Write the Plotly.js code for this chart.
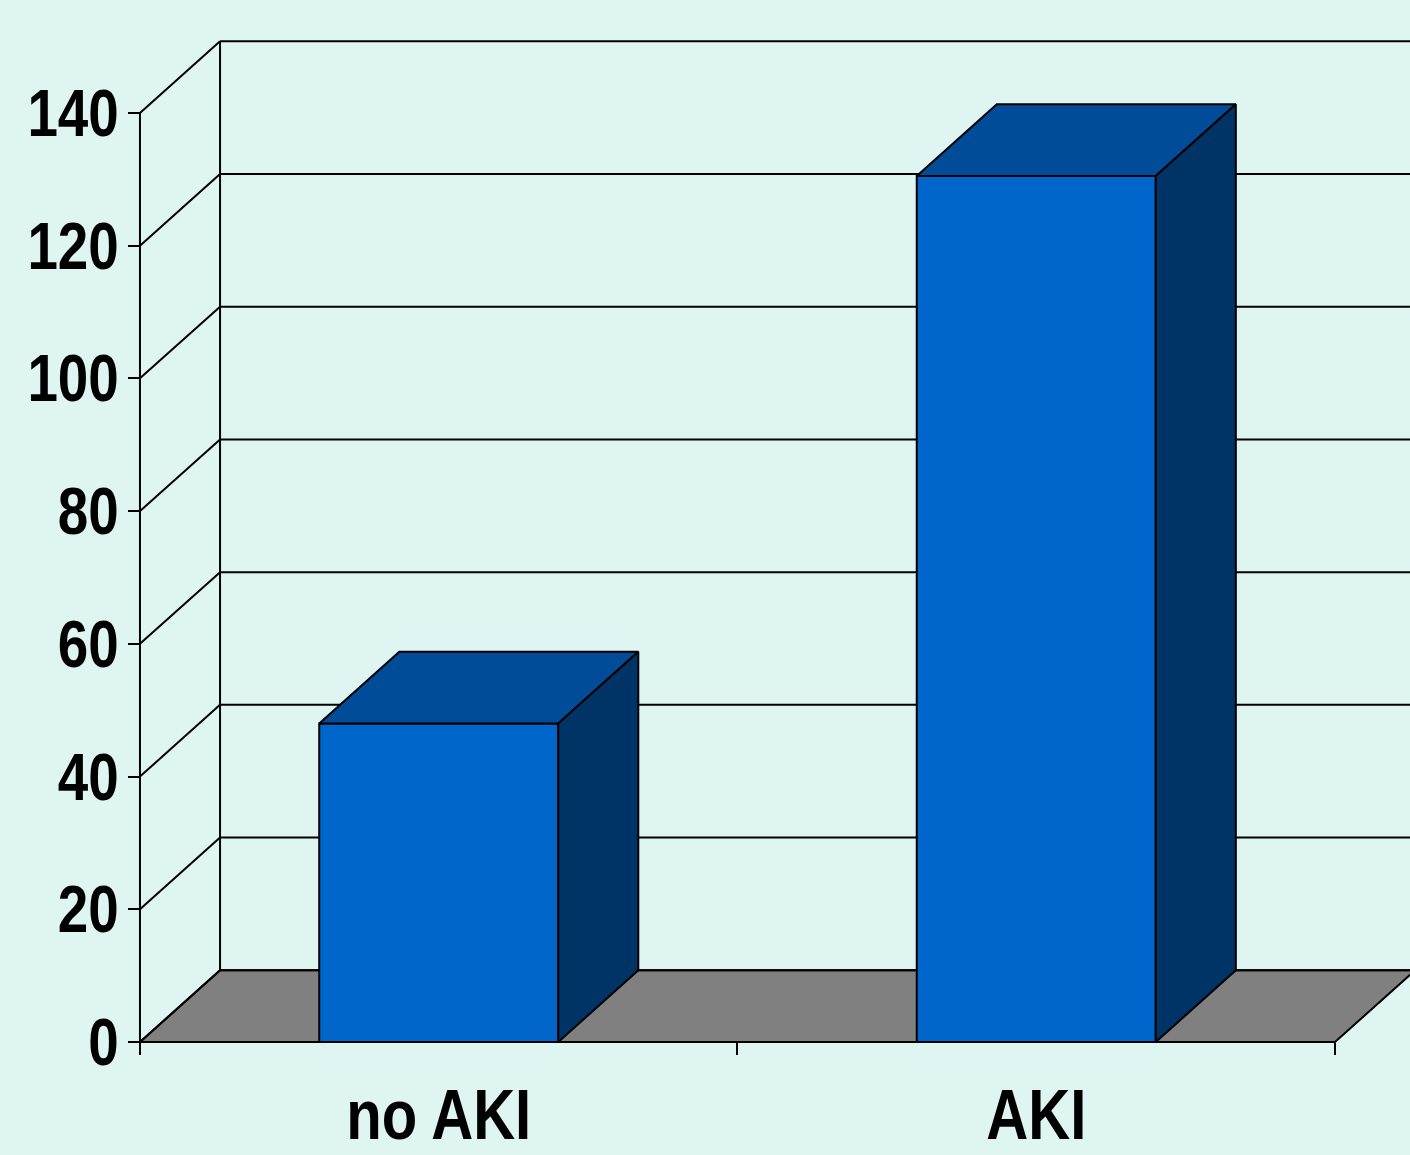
<!DOCTYPE html>
<html>
<head>
<meta charset="utf-8">
<script src="https://cdn.plot.ly/plotly-3.0.1.min.js"></script>
<style>
  html, body { margin: 0; padding: 0; background: #DEF5F1; }
  #chart { width: 1410px; height: 1155px; }
</style>
</head>
<body>
<div id="chart"></div>
<script>
// ---- data ----
const categories = ['no AKI', 'AKI'];
const values = [48, 130.5];
const yTickVals = [0, 20, 40, 60, 80, 100, 120, 140];
const yTickText = ['0', '20', '40', '60', '80', '100', '120', '140'];

// ---- geometry / style ----
const DX = 0.134;       // depth offset in x units
const DY = 10.8;        // depth offset in y units
const BAR_HALF = 0.2;   // half bar width in x units
const Y_TOP = yTickVals[yTickVals.length - 1];
const X_END = categories.length;
const catPos = categories.map((c, i) => i + 0.5);

const BG = '#DEF5F1';
const FLOOR = '#808080';
const FRONT = '#0066CC';
const TOP = '#004C99';
const SIDE = '#003366';
const LINE = '#000000';
const NARROW = 0.83;    // horizontal condensing of label text (Arial Narrow look)
const FONT = { family: '"Liberation Sans", Arial, sans-serif', size: 66, color: '#000', weight: 700 };

const traces = [];
function poly(xs, ys, fill, lw) {
  traces.push({
    type: 'scatter', mode: 'lines', x: xs.concat([xs[0]]), y: ys.concat([ys[0]]),
    fill: 'toself', fillcolor: fill, line: { color: LINE, width: lw },
    hoverinfo: 'skip', showlegend: false
  });
}
function lines(xs, ys, lw) {
  traces.push({
    type: 'scatter', mode: 'lines', x: xs, y: ys, connectgaps: false,
    line: { color: LINE, width: lw }, hoverinfo: 'skip', showlegend: false
  });
}

// floor
poly([0, X_END, X_END + DX, DX], [0, 0, DY, DY], FLOOR, 2);

// back-wall gridlines and side-wall diagonals
const gx = [], gy = [];
yTickVals.forEach(t => {
  gx.push(DX, X_END + DX + 0.5, null);
  gy.push(t + DY, t + DY, null);
  gx.push(0, DX, null);
  gy.push(t, t + DY, null);
});
lines(gx, gy, 2);
// back-wall corner and front value axis
lines([DX, DX, null, 0, 0], [DY, Y_TOP + DY, null, 0, Y_TOP], 2);

// 3D bars
values.forEach((v, i) => {
  const x0 = catPos[i] - BAR_HALF, x1 = catPos[i] + BAR_HALF;
  poly([x0, x1, x1, x0], [0, 0, v, v], FRONT, 2);
  poly([x0, x1, x1 + DX, x0 + DX], [v, v, v + DY, v + DY], TOP, 2);
  poly([x1, x1 + DX, x1 + DX, x1], [0, DY, v + DY, v], SIDE, 2);
});

const layout = {
  width: 1410, height: 1155,
  paper_bgcolor: BG, plot_bgcolor: BG,
  margin: { l: 100, r: 0, t: 20, b: 95 },
  showlegend: false,
  font: FONT,
  xaxis: {
    range: [-0.0669, 2.1255], anchor: 'free', position: 0.017308,
    showgrid: false, zeroline: false, showline: false,
    tickmode: 'array', tickvals: catPos, ticktext: categories,
    ticks: '', ticklabelstandoff: 26,
    tickfont: Object.assign({}, FONT, { size: 70 }),
    minor: { tickmode: 'array', tickvals: [0, 1, 2], ticks: 'outside', ticklen: 12, tickwidth: 2, tickcolor: LINE, showgrid: false },
    fixedrange: true
  },
  yaxis: {
    range: [-2.712, 154.0], anchor: 'free', position: 0.030534,
    showgrid: false, zeroline: false, showline: false,
    tickmode: 'array', tickvals: yTickVals, ticktext: yTickText,
    ticks: 'outside', ticklen: 12, tickwidth: 2, tickcolor: LINE,
    ticklabelstandoff: -4,
    tickfont: FONT,
    fixedrange: true
  }
};

function condense(gd) {
  gd.querySelectorAll('.xtick text, .ytick text').forEach(t => {
    const ax = parseFloat(t.getAttribute('x')) || 0;
    const prev = t.getAttribute('transform') || '';
    t.setAttribute('transform', prev + ' translate(' + ax + ',0) scale(' + NARROW + ',1) translate(' + (-ax) + ',0)');
  });
}

Plotly.newPlot('chart', traces, layout, { displayModeBar: false, staticPlot: true })
  .then(gd => condense(gd));
</script>
</body>
</html>
